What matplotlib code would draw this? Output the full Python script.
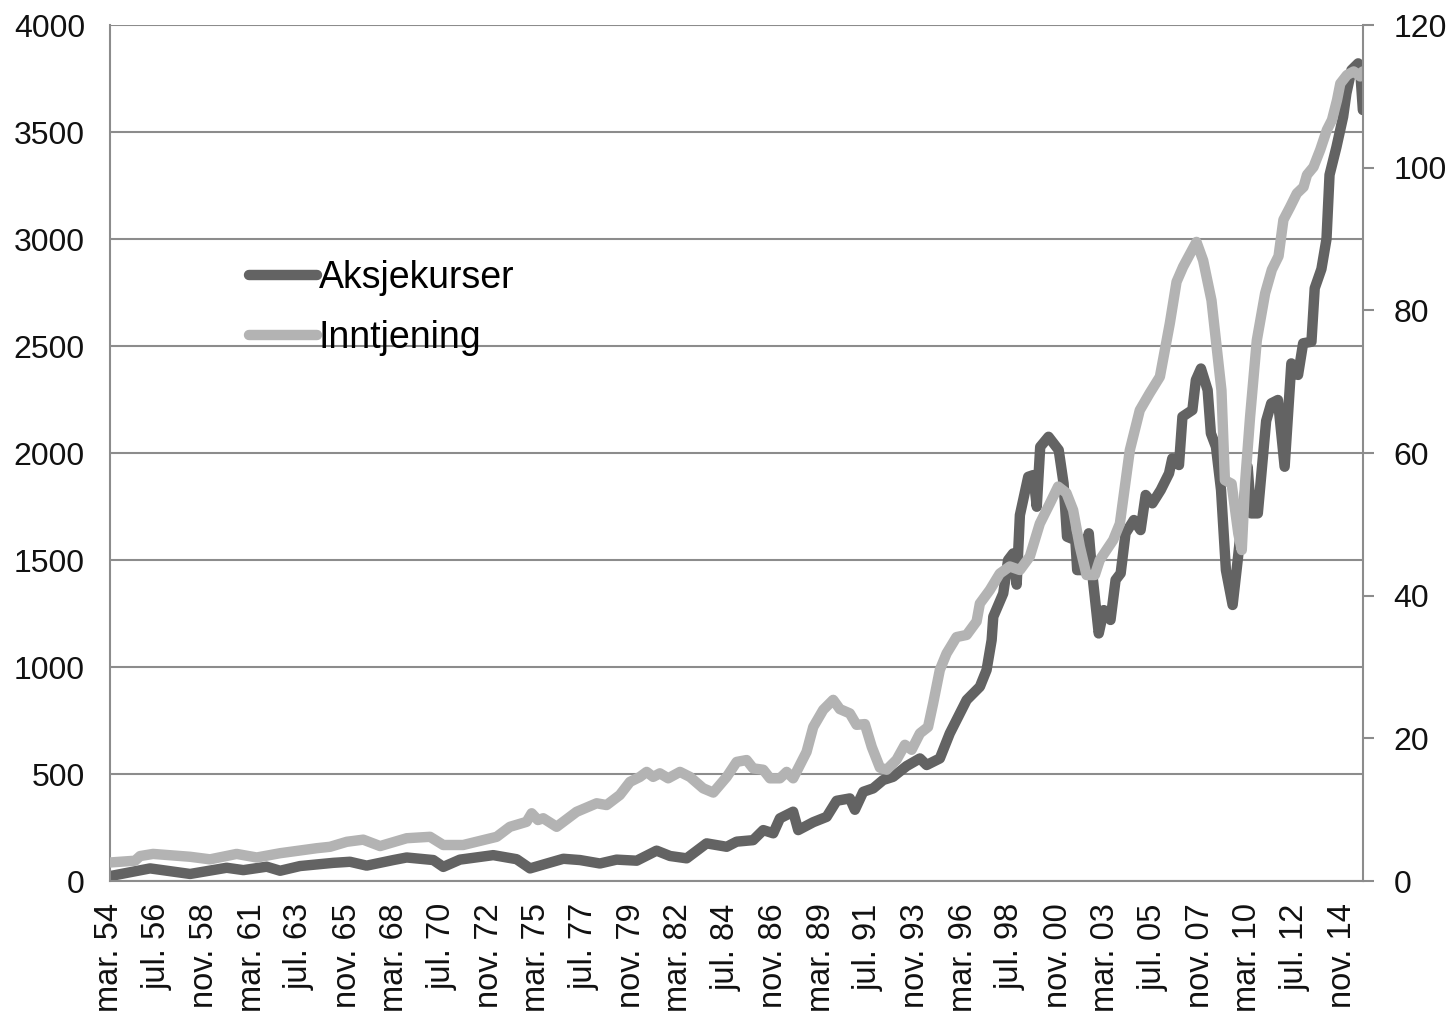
import matplotlib.pyplot as plt
import numpy as np

plt.rcParams['font.family'] = ['Liberation Sans', 'DejaVu Sans']

# Aksjekurser (left axis), dates as decimal years
stock_years = [1954.17, 1956.14, 1958.11, 1959.91, 1960.73, 1961.88, 1962.54, 1963.52,
               1965.16, 1965.98, 1966.80, 1968.11, 1968.77, 1970.08, 1970.57, 1971.39,
               1973.03, 1974.18, 1974.84, 1975.82, 1976.48, 1977.30, 1978.28, 1979.10,
               1980.09, 1981.07, 1981.73, 1982.55, 1983.53, 1984.52, 1985.01, 1985.82,
               1986.32, 1986.81, 1987.14, 1987.79, 1988.04, 1988.78, 1989.44, 1989.93,
               1990.58, 1990.83, 1991.24, 1991.73, 1992.22, 1992.71, 1993.37, 1994.03,
               1994.36, 1995.01, 1995.50, 1996.33, 1996.98, 1997.31, 1997.56, 1997.64,
               1998.13, 1998.37, 1998.62, 1998.79, 1998.95, 1999.36, 1999.61, 1999.78,
               1999.95, 2000.36, 2000.86, 2001.10, 2001.27, 2001.68, 2001.77, 2002.09,
               2002.34, 2002.51, 2002.83, 2003.08, 2003.41, 2003.66, 2003.91, 2004.15,
               2004.56, 2004.89, 2005.14, 2005.47, 2005.88, 2006.29, 2006.45, 2006.78,
               2006.95, 2007.44, 2007.61, 2007.86, 2008.19, 2008.35, 2008.60, 2008.85,
               2009.09, 2009.42, 2009.67, 2010.16, 2010.33, 2010.66, 2011.07, 2011.32,
               2011.65, 2011.98, 2012.31, 2012.64, 2012.89, 2013.30, 2013.46, 2013.79,
               2014.04, 2014.19, 2014.53, 2014.86, 2015.02, 2015.27, 2015.60, 2015.72,
               2015.83]
stock_values = [23, 59, 33, 62, 51, 67, 48, 70,
                85, 90, 72, 98, 110, 98, 66, 100,
                121, 102, 59, 86, 104, 98, 82, 100,
                95, 142, 117, 106, 176, 160, 184, 191,
                238, 223, 293, 324, 238, 275, 300, 375,
                386, 333, 417, 433, 472, 487, 537, 573,
                542, 573, 690, 846, 908, 986, 1126, 1235,
                1344, 1500, 1531, 1385, 1710, 1889, 1897, 1749,
                2029, 2076, 2014, 1858, 1609, 1593, 1453, 1453,
                1625, 1438, 1157, 1266, 1220, 1407, 1438, 1625,
                1687, 1640, 1804, 1765, 1827, 1905, 1975, 1944,
                2170, 2201, 2341, 2395, 2294, 2092, 2029, 1827,
                1453, 1290, 1500, 1936, 1718, 1718, 2150, 2232,
                2248, 1936, 2419, 2365, 2513, 2520, 2770, 2860,
                3000, 3300, 3430, 3572, 3681, 3790, 3821, 3758,
                3603]

# Inntjening (right axis)
earn_years = [1954.17, 1955.40, 1955.65, 1956.29, 1958.11, 1959.09, 1960.40, 1961.39,
              1962.54, 1964.34, 1965.00, 1965.82, 1966.63, 1967.46, 1968.77, 1969.92,
              1970.57, 1971.55, 1973.20, 1973.85, 1974.67, 1974.92, 1975.23, 1975.49,
              1976.15, 1977.13, 1978.12, 1978.61, 1979.26, 1979.76, 1980.25, 1980.58,
              1980.90, 1981.23, 1981.64, 1982.22, 1982.71, 1983.36, 1983.86, 1984.52,
              1985.01, 1985.50, 1985.82, 1986.32, 1986.65, 1987.14, 1987.47, 1987.79,
              1988.45, 1988.78, 1989.27, 1989.76, 1990.09, 1990.58, 1990.91, 1991.32,
              1991.66, 1992.06, 1992.39, 1992.88, 1993.29, 1993.62, 1994.03, 1994.43,
              1994.68, 1995.01, 1995.34, 1995.83, 1996.33, 1996.82, 1996.98, 1997.47,
              1997.96, 1998.45, 1998.95, 1999.44, 1999.93, 2000.42, 2000.83, 2001.24,
              2001.57, 2001.90, 2002.23, 2002.64, 2002.88, 2003.54, 2003.87, 2004.36,
              2004.85, 2005.34, 2005.84, 2006.33, 2006.66, 2006.98, 2007.64, 2007.97,
              2008.38, 2008.87, 2009.04, 2009.37, 2009.70, 2009.87, 2010.03, 2010.28,
              2010.61, 2011.02, 2011.35, 2011.68, 2011.92, 2012.25, 2012.58, 2012.91,
              2013.08, 2013.40, 2013.73, 2014.06, 2014.31, 2014.56, 2014.72, 2015.05,
              2015.38, 2015.70, 2015.83]
earn_values = [2.6, 2.85, 3.5, 3.8, 3.4, 3.04, 3.8, 3.3,
               3.9, 4.6, 4.8, 5.5, 5.8, 4.9, 6.0, 6.2,
               5.05, 5.05, 6.2, 7.6, 8.3, 9.5, 8.55, 8.8,
               7.6, 9.7, 10.9, 10.65, 12.06, 13.9, 14.6, 15.3,
               14.6, 15.1, 14.4, 15.3, 14.6, 13.0, 12.4, 14.6,
               16.7, 16.96, 15.8, 15.6, 14.4, 14.4, 15.3, 14.4,
               18.1, 21.6, 24.0, 25.4, 24.1, 23.5, 21.9, 22.0,
               18.8, 15.9, 15.6, 17.0, 19.1, 18.4, 20.7, 21.6,
               24.9, 29.6, 31.9, 34.2, 34.5, 36.4, 38.9, 40.8,
               43.1, 44.1, 43.6, 45.5, 50.1, 52.9, 55.3, 54.4,
               52.0, 46.9, 42.9, 42.9, 45.0, 47.8, 50.1, 60.4,
               66.0, 68.4, 70.7, 78.2, 84.0, 86.1, 89.6, 87.0,
               81.4, 68.8, 56.2, 55.7, 48.7, 46.4, 55.7, 65.1,
               75.8, 82.4, 85.7, 87.6, 92.7, 94.5, 96.4, 97.3,
               99.0, 100.1, 102.5, 105.3, 106.7, 109.5, 111.8, 113.0,
               113.5, 112.8, 113.5]

tick_labels = ['mar. 54', 'jul. 56', 'nov. 58', 'mar. 61', 'jul. 63', 'nov. 65',
               'mar. 68', 'jul. 70', 'nov. 72', 'mar. 75', 'jul. 77', 'nov. 79',
               'mar. 82', 'jul. 84', 'nov. 86', 'mar. 89', 'jul. 91', 'nov. 93',
               'mar. 96', 'jul. 98', 'nov. 00', 'mar. 03', 'jul. 05', 'nov. 07',
               'mar. 10', 'jul. 12', 'nov. 14']

DARK = '#636363'
LIGHT = '#b3b3b3'
GRID = '#8c8c8c'

start = 1954 + 2 / 12
tick_pos = start + np.arange(len(tick_labels)) * 28 / 12

fig = plt.figure(figsize=(14.49, 10.19), dpi=100)
ax = fig.add_axes([0.0759, 0.1354, 0.8647, 0.8400])
ax2 = ax.twinx()

l1, = ax.plot(stock_years, stock_values, color=DARK, lw=7.5,
              solid_capstyle='round', solid_joinstyle='round', label='Aksjekurser')
l2, = ax2.plot(earn_years, earn_values, color=LIGHT, lw=7.5,
               solid_capstyle='round', solid_joinstyle='round', label='Inntjening')

ax.set_xlim(start, start + 740 / 12)
ax.set_ylim(0, 4000)
ax2.set_ylim(0, 120)
ax.set_yticks(range(0, 4001, 500))
ax2.set_yticks(range(0, 121, 20))
ax.set_xticks(tick_pos)
ax.set_xticklabels(tick_labels, rotation=90)

ax.grid(axis='y', color=GRID, lw=1.5)
ax.set_axisbelow(True)

for a in (ax, ax2):
    for s in a.spines.values():
        s.set_visible(False)
ax.spines['left'].set_visible(True)
ax.spines['bottom'].set_visible(True)
ax2.spines['right'].set_visible(True)
for s in (ax.spines['left'], ax.spines['bottom'], ax2.spines['right']):
    s.set_color(GRID)
    s.set_linewidth(1.5)

ax.tick_params(axis='y', length=0, pad=18, labelsize=23, labelcolor='#111111')
ax.tick_params(axis='x', length=0, pad=16, labelsize=23.5, labelcolor='#111111')
ax2.tick_params(axis='y', length=8, width=1.5, color=GRID, pad=14, labelsize=23,
                labelcolor='#111111')

ax2.legend(handles=[l1, l2], loc='upper left', bbox_to_anchor=(0.111, 0.725),
           frameon=False, fontsize=27, handlelength=1.8, handletextpad=0.05,
           labelspacing=0.64, borderpad=0, borderaxespad=0)

fig.savefig('out.png', dpi=100)
